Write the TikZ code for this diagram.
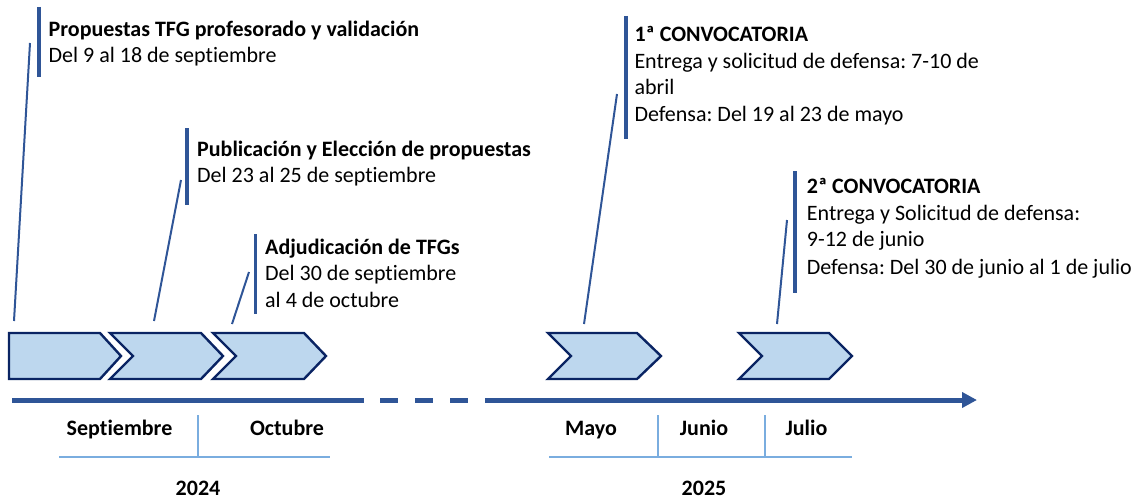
\documentclass[tikz,border=0pt]{standalone}
\usepackage{fontspec}
\setmainfont{Carlito}[Ligatures={NoCommon,NoContextual}]
\frenchspacing
\usetikzlibrary{arrows.meta}
\definecolor{axisblue}{HTML}{2F5597}
\definecolor{chevfill}{HTML}{BDD7EE}
\definecolor{chevline}{HTML}{0A2463}
\definecolor{thinblue}{HTML}{7AADDF}
\tikzset{
  txt/.style={anchor=base west, inner sep=0pt, font=\fontsize{22pt}{26.7pt}\selectfont},
  btxt/.style={txt, font=\fontsize{22pt}{26.7pt}\selectfont\bfseries},
  ctr/.style={anchor=base, inner sep=0pt, font=\fontsize{22pt}{26.7pt}\selectfont\bfseries},
  bar/.style={draw=axisblue, line width=3.5pt},
  conn/.style={draw=axisblue, line width=2pt},
  chev/.style={draw=chevline, fill=chevfill, line width=2.4pt, line join=miter},
  axis/.style={draw=axisblue, line width=5pt},
  thin/.style={draw=thinblue, line width=1.2pt},
}
\begin{document}
\begin{tikzpicture}[x=1pt,y=-1pt]
\useasboundingbox (0,0) rectangle (1142,500);

% chevrons
\draw[chev] (9,333) -- (100,333) -- (121,356) -- (100,379) -- (9,379) -- cycle;
\draw[chev] (110,333) -- (201,333) -- (223,356) -- (201,379) -- (110,379) -- (133,356) -- cycle;
\draw[chev] (213,333) -- (304,333) -- (326,356) -- (304,379) -- (213,379) -- (236,356) -- cycle;
\draw[chev] (548,333) -- (637,333) -- (661,356) -- (637,379) -- (548,379) -- (571,356) -- cycle;
\draw[chev] (739,333) -- (829,333) -- (852,356) -- (829,379) -- (739,379) -- (762,356) -- cycle;

% axis
\coordinate (ax0) at (12,400);
\coordinate (ax1) at (364,400);
\coordinate (dz0) at (380,400);
\coordinate (dz1) at (468,400);
\coordinate (ax2) at (485,400);
\coordinate (ax3) at (977,400);
\draw[axis] (ax0) -- (ax1);
\draw[axis, dash pattern=on 18pt off 17pt] (dz0) -- (dz1);
\draw[axis, -{Triangle[length=15pt,width=15pt]}] (ax2) -- (ax3);

% month tables
\draw[thin] (59,457) -- (330,457);
\draw[thin] (198,415) -- (198,457);
\draw[thin] (549,457) -- (852,457);
\draw[thin] (658,415) -- (658,457);
\draw[thin] (765,415) -- (765,457);

\node[ctr] (msep) at (119.5,435) {Septiembre};
\node[ctr] (moct) at (287,435) {Octubre};
\node[ctr] (mmay) at (591,435) {Mayo};
\node[ctr] (mjun) at (704,435) {Junio};
\node[ctr] (mjul) at (806.5,435) {Julio};
\node[ctr] (y24) at (198,495) {2024};
\node[ctr] (y25) at (704,495) {2025};

% bars
\draw[bar] (39,7) -- (39,77);
\draw[bar] (187,128) -- (187,205);
\draw[bar] (255.3,234) -- (255.3,314);
\draw[bar] (626,16) -- (626,139);
\draw[bar] (795,171) -- (795,293);

% connectors
\coordinate (k1a) at (30,43);   \coordinate (k1b) at (14,321);
\coordinate (k2a) at (181,180); \coordinate (k2b) at (154,321);
\coordinate (k3a) at (249,272); \coordinate (k3b) at (232,324);
\coordinate (k4a) at (617,94);  \coordinate (k4b) at (584,324);
\coordinate (k5a) at (787,220); \coordinate (k5b) at (777,324);
\draw[conn] (k1a) -- (k1b);
\draw[conn] (k2a) -- (k2b);
\draw[conn] (k3a) -- (k3b);
\draw[conn] (k4a) -- (k4b);
\draw[conn] (k5a) -- (k5b);

% texts
\node[btxt] (t1a) at (48.5,37) {Propuestas TFG profesorado y validación};
\node[txt]  (t1b) at (48.5,63) {Del 9 al 18 de septiembre};

\node[btxt] (t2a) at (197,156) {Publicación y Elección de propuestas};
\node[txt]  (t2b) at (197,182) {Del 23 al 25 de septiembre};

\node[btxt] (t3a) at (265,254) {Adjudicación de TFGs};
\node[txt]  (t3b) at (265,280.5) {Del 30 de septiembre};
\node[txt]  (t3c) at (265,307) {al 4 de octubre};

\node[btxt] (t4a) at (634.3,41.7) {1ª CONVOCATORIA};
\node[txt]  (t4b) at (634.3,68.3) {Entrega y solicitud de defensa: 7-10 de};
\node[txt]  (t4c) at (634.3,95) {abril};
\node[txt]  (t4d) at (634.3,121.7) {Defensa: Del 19 al 23 de mayo};

\node[btxt] (t5a) at (806.7,193.3) {2ª CONVOCATORIA};
\node[txt]  (t5b) at (806.7,220) {Entrega y Solicitud de defensa:};
\node[txt]  (t5c) at (806.7,246.7) {9-12 de junio};
\node[txt]  (t5d) at (806.7,274.3) {Defensa: Del 30 de junio al 1 de julio};
\end{tikzpicture}
\end{document}
